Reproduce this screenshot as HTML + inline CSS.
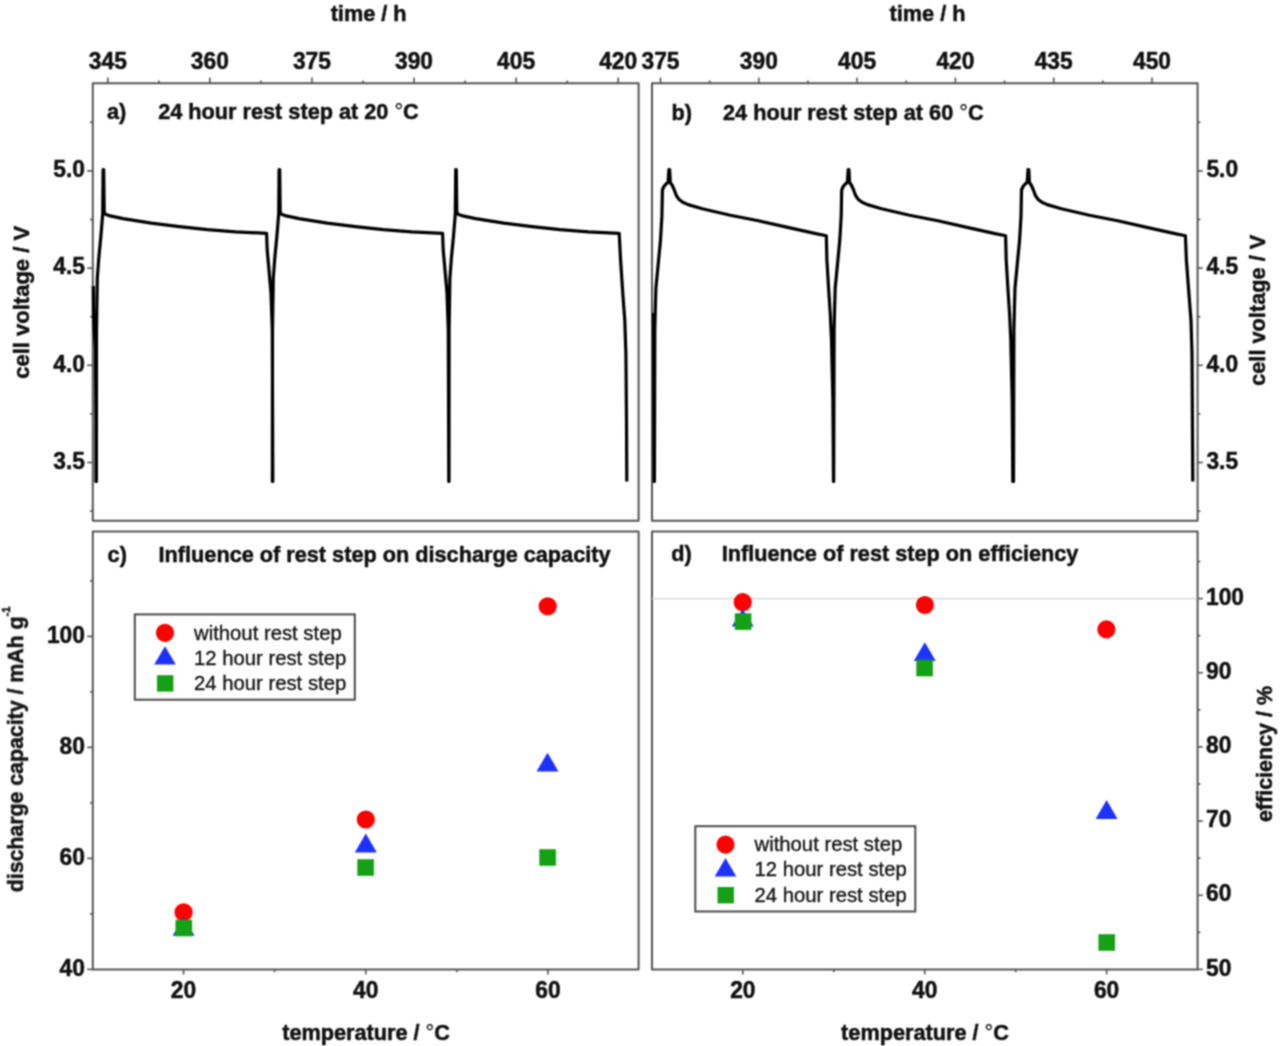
<!DOCTYPE html>
<html><head><meta charset="utf-8"><title>figure</title>
<style>html,body{margin:0;padding:0;background:#fff;}svg{display:block;}text{font-family:"Liberation Sans",sans-serif;}</style>
</head><body>
<div id="w"><svg width="1280" height="1046" viewBox="0 0 1280 1046" font-family="Liberation Sans, sans-serif">
<defs><filter id="soft" x="0" y="0" width="1280" height="1046" filterUnits="userSpaceOnUse" color-interpolation-filters="sRGB"><feConvolveMatrix order="3" kernelMatrix="1 2 1 2 4 2 1 2 1" divisor="16" edgeMode="duplicate"/></filter></defs>
<g filter="url(#soft)">
<rect width="1280" height="1046" fill="#fff"/>
<rect x="92.8" y="83.2" width="545.8" height="437.5" fill="none" stroke="#555555" stroke-width="2.0" stroke-linejoin="round"/>
<rect x="652" y="83.2" width="545.6" height="437.5" fill="none" stroke="#555555" stroke-width="2.0" stroke-linejoin="round"/>
<rect x="92.8" y="531.6" width="545.8" height="437.8" fill="none" stroke="#555555" stroke-width="2.0" stroke-linejoin="round"/>
<rect x="652" y="531.6" width="545.6" height="437.8" fill="none" stroke="#555555" stroke-width="2.0" stroke-linejoin="round"/>
<line x1="652" y1="598.6" x2="1197.6" y2="598.6" stroke="#d4d4d4" stroke-width="1.4"/>
<line x1="107.8" y1="83.2" x2="107.8" y2="77.5" stroke="#555" stroke-width="1.6"/>
<text transform="translate(107.8,69.1) scale(1,1.02)" text-anchor="middle" font-size="22.8" font-weight="bold" fill="#111" stroke="#111" stroke-width="0.5">345</text>
<line x1="209.88" y1="83.2" x2="209.88" y2="77.5" stroke="#555" stroke-width="1.6"/>
<text transform="translate(209.88,69.1) scale(1,1.02)" text-anchor="middle" font-size="22.8" font-weight="bold" fill="#111" stroke="#111" stroke-width="0.5">360</text>
<line x1="311.96" y1="83.2" x2="311.96" y2="77.5" stroke="#555" stroke-width="1.6"/>
<text transform="translate(311.96,69.1) scale(1,1.02)" text-anchor="middle" font-size="22.8" font-weight="bold" fill="#111" stroke="#111" stroke-width="0.5">375</text>
<line x1="414.04" y1="83.2" x2="414.04" y2="77.5" stroke="#555" stroke-width="1.6"/>
<text transform="translate(414.04,69.1) scale(1,1.02)" text-anchor="middle" font-size="22.8" font-weight="bold" fill="#111" stroke="#111" stroke-width="0.5">390</text>
<line x1="516.12" y1="83.2" x2="516.12" y2="77.5" stroke="#555" stroke-width="1.6"/>
<text transform="translate(516.12,69.1) scale(1,1.02)" text-anchor="middle" font-size="22.8" font-weight="bold" fill="#111" stroke="#111" stroke-width="0.5">405</text>
<line x1="618.2" y1="83.2" x2="618.2" y2="77.5" stroke="#555" stroke-width="1.6"/>
<text transform="translate(618.2,69.1) scale(1,1.02)" text-anchor="middle" font-size="22.8" font-weight="bold" fill="#111" stroke="#111" stroke-width="0.5">420</text>
<line x1="158.84" y1="83.2" x2="158.84" y2="80.4" stroke="#555" stroke-width="1.6"/>
<line x1="260.92" y1="83.2" x2="260.92" y2="80.4" stroke="#555" stroke-width="1.6"/>
<line x1="363" y1="83.2" x2="363" y2="80.4" stroke="#555" stroke-width="1.6"/>
<line x1="465.08" y1="83.2" x2="465.08" y2="80.4" stroke="#555" stroke-width="1.6"/>
<line x1="567.16" y1="83.2" x2="567.16" y2="80.4" stroke="#555" stroke-width="1.6"/>
<line x1="660.5" y1="83.2" x2="660.5" y2="77.5" stroke="#555" stroke-width="1.6"/>
<text transform="translate(660.5,69.1) scale(1,1.02)" text-anchor="middle" font-size="22.8" font-weight="bold" fill="#111" stroke="#111" stroke-width="0.5">375</text>
<line x1="758.8" y1="83.2" x2="758.8" y2="77.5" stroke="#555" stroke-width="1.6"/>
<text transform="translate(758.8,69.1) scale(1,1.02)" text-anchor="middle" font-size="22.8" font-weight="bold" fill="#111" stroke="#111" stroke-width="0.5">390</text>
<line x1="857.1" y1="83.2" x2="857.1" y2="77.5" stroke="#555" stroke-width="1.6"/>
<text transform="translate(857.1,69.1) scale(1,1.02)" text-anchor="middle" font-size="22.8" font-weight="bold" fill="#111" stroke="#111" stroke-width="0.5">405</text>
<line x1="955.4" y1="83.2" x2="955.4" y2="77.5" stroke="#555" stroke-width="1.6"/>
<text transform="translate(955.4,69.1) scale(1,1.02)" text-anchor="middle" font-size="22.8" font-weight="bold" fill="#111" stroke="#111" stroke-width="0.5">420</text>
<line x1="1053.7" y1="83.2" x2="1053.7" y2="77.5" stroke="#555" stroke-width="1.6"/>
<text transform="translate(1053.7,69.1) scale(1,1.02)" text-anchor="middle" font-size="22.8" font-weight="bold" fill="#111" stroke="#111" stroke-width="0.5">435</text>
<line x1="1152" y1="83.2" x2="1152" y2="77.5" stroke="#555" stroke-width="1.6"/>
<text transform="translate(1152,69.1) scale(1,1.02)" text-anchor="middle" font-size="22.8" font-weight="bold" fill="#111" stroke="#111" stroke-width="0.5">450</text>
<line x1="709.65" y1="83.2" x2="709.65" y2="80.4" stroke="#555" stroke-width="1.6"/>
<line x1="807.95" y1="83.2" x2="807.95" y2="80.4" stroke="#555" stroke-width="1.6"/>
<line x1="906.25" y1="83.2" x2="906.25" y2="80.4" stroke="#555" stroke-width="1.6"/>
<line x1="1004.55" y1="83.2" x2="1004.55" y2="80.4" stroke="#555" stroke-width="1.6"/>
<line x1="1102.85" y1="83.2" x2="1102.85" y2="80.4" stroke="#555" stroke-width="1.6"/>
<line x1="92.8" y1="170.9" x2="87.2" y2="170.9" stroke="#555" stroke-width="1.6"/>
<line x1="1197.6" y1="170.9" x2="1202.8" y2="170.9" stroke="#555" stroke-width="1.6"/>
<text transform="translate(84.9,177.1) scale(1,1.02)" text-anchor="end" font-size="22.8" font-weight="bold" fill="#111" stroke="#111" stroke-width="0.5">5.0</text>
<text transform="translate(1206.4,177.1) scale(1,1.02)" text-anchor="start" font-size="22.8" font-weight="bold" fill="#111" stroke="#111" stroke-width="0.5">5.0</text>
<line x1="92.8" y1="268.1" x2="87.2" y2="268.1" stroke="#555" stroke-width="1.6"/>
<line x1="1197.6" y1="268.1" x2="1202.8" y2="268.1" stroke="#555" stroke-width="1.6"/>
<text transform="translate(84.9,274.3) scale(1,1.02)" text-anchor="end" font-size="22.8" font-weight="bold" fill="#111" stroke="#111" stroke-width="0.5">4.5</text>
<text transform="translate(1206.4,274.3) scale(1,1.02)" text-anchor="start" font-size="22.8" font-weight="bold" fill="#111" stroke="#111" stroke-width="0.5">4.5</text>
<line x1="92.8" y1="365.3" x2="87.2" y2="365.3" stroke="#555" stroke-width="1.6"/>
<line x1="1197.6" y1="365.3" x2="1202.8" y2="365.3" stroke="#555" stroke-width="1.6"/>
<text transform="translate(84.9,371.5) scale(1,1.02)" text-anchor="end" font-size="22.8" font-weight="bold" fill="#111" stroke="#111" stroke-width="0.5">4.0</text>
<text transform="translate(1206.4,371.5) scale(1,1.02)" text-anchor="start" font-size="22.8" font-weight="bold" fill="#111" stroke="#111" stroke-width="0.5">4.0</text>
<line x1="92.8" y1="462.5" x2="87.2" y2="462.5" stroke="#555" stroke-width="1.6"/>
<line x1="1197.6" y1="462.5" x2="1202.8" y2="462.5" stroke="#555" stroke-width="1.6"/>
<text transform="translate(84.9,468.7) scale(1,1.02)" text-anchor="end" font-size="22.8" font-weight="bold" fill="#111" stroke="#111" stroke-width="0.5">3.5</text>
<text transform="translate(1206.4,468.7) scale(1,1.02)" text-anchor="start" font-size="22.8" font-weight="bold" fill="#111" stroke="#111" stroke-width="0.5">3.5</text>
<line x1="92.8" y1="122.3" x2="90" y2="122.3" stroke="#555" stroke-width="1.6"/>
<line x1="1197.6" y1="122.3" x2="1200.4" y2="122.3" stroke="#555" stroke-width="1.6"/>
<line x1="92.8" y1="219.5" x2="90" y2="219.5" stroke="#555" stroke-width="1.6"/>
<line x1="1197.6" y1="219.5" x2="1200.4" y2="219.5" stroke="#555" stroke-width="1.6"/>
<line x1="92.8" y1="316.7" x2="90" y2="316.7" stroke="#555" stroke-width="1.6"/>
<line x1="1197.6" y1="316.7" x2="1200.4" y2="316.7" stroke="#555" stroke-width="1.6"/>
<line x1="92.8" y1="413.9" x2="90" y2="413.9" stroke="#555" stroke-width="1.6"/>
<line x1="1197.6" y1="413.9" x2="1200.4" y2="413.9" stroke="#555" stroke-width="1.6"/>
<line x1="92.8" y1="511.1" x2="90" y2="511.1" stroke="#555" stroke-width="1.6"/>
<line x1="1197.6" y1="511.1" x2="1200.4" y2="511.1" stroke="#555" stroke-width="1.6"/>
<line x1="183.5" y1="969.4" x2="183.5" y2="974.4" stroke="#555" stroke-width="1.6"/>
<text transform="translate(183.5,998.1) scale(1,1.02)" text-anchor="middle" font-size="22.8" font-weight="bold" fill="#111" stroke="#111" stroke-width="0.5">20</text>
<line x1="365.74" y1="969.4" x2="365.74" y2="974.4" stroke="#555" stroke-width="1.6"/>
<text transform="translate(365.74,998.1) scale(1,1.02)" text-anchor="middle" font-size="22.8" font-weight="bold" fill="#111" stroke="#111" stroke-width="0.5">40</text>
<line x1="547.98" y1="969.4" x2="547.98" y2="974.4" stroke="#555" stroke-width="1.6"/>
<text transform="translate(547.98,998.1) scale(1,1.02)" text-anchor="middle" font-size="22.8" font-weight="bold" fill="#111" stroke="#111" stroke-width="0.5">60</text>
<line x1="274.62" y1="969.4" x2="274.62" y2="972.2" stroke="#555" stroke-width="1.6"/>
<line x1="456.86" y1="969.4" x2="456.86" y2="972.2" stroke="#555" stroke-width="1.6"/>
<line x1="92.8" y1="969.4" x2="87.2" y2="969.4" stroke="#555" stroke-width="1.6"/>
<text transform="translate(84.9,975.6) scale(1,1.02)" text-anchor="end" font-size="22.8" font-weight="bold" fill="#111" stroke="#111" stroke-width="0.5">40</text>
<line x1="92.8" y1="858.4" x2="87.2" y2="858.4" stroke="#555" stroke-width="1.6"/>
<text transform="translate(84.9,864.6) scale(1,1.02)" text-anchor="end" font-size="22.8" font-weight="bold" fill="#111" stroke="#111" stroke-width="0.5">60</text>
<line x1="92.8" y1="747.4" x2="87.2" y2="747.4" stroke="#555" stroke-width="1.6"/>
<text transform="translate(84.9,753.6) scale(1,1.02)" text-anchor="end" font-size="22.8" font-weight="bold" fill="#111" stroke="#111" stroke-width="0.5">80</text>
<line x1="92.8" y1="636.4" x2="87.2" y2="636.4" stroke="#555" stroke-width="1.6"/>
<text transform="translate(84.9,642.6) scale(1,1.02)" text-anchor="end" font-size="22.8" font-weight="bold" fill="#111" stroke="#111" stroke-width="0.5">100</text>
<line x1="92.8" y1="913.9" x2="90" y2="913.9" stroke="#555" stroke-width="1.6"/>
<line x1="92.8" y1="802.9" x2="90" y2="802.9" stroke="#555" stroke-width="1.6"/>
<line x1="92.8" y1="691.9" x2="90" y2="691.9" stroke="#555" stroke-width="1.6"/>
<line x1="92.8" y1="580.9" x2="90" y2="580.9" stroke="#555" stroke-width="1.6"/>
<line x1="742.8" y1="969.4" x2="742.8" y2="974.4" stroke="#555" stroke-width="1.6"/>
<text transform="translate(742.8,998.1) scale(1,1.02)" text-anchor="middle" font-size="22.8" font-weight="bold" fill="#111" stroke="#111" stroke-width="0.5">20</text>
<line x1="924.7" y1="969.4" x2="924.7" y2="974.4" stroke="#555" stroke-width="1.6"/>
<text transform="translate(924.7,998.1) scale(1,1.02)" text-anchor="middle" font-size="22.8" font-weight="bold" fill="#111" stroke="#111" stroke-width="0.5">40</text>
<line x1="1106.6" y1="969.4" x2="1106.6" y2="974.4" stroke="#555" stroke-width="1.6"/>
<text transform="translate(1106.6,998.1) scale(1,1.02)" text-anchor="middle" font-size="22.8" font-weight="bold" fill="#111" stroke="#111" stroke-width="0.5">60</text>
<line x1="833.75" y1="969.4" x2="833.75" y2="972.2" stroke="#555" stroke-width="1.6"/>
<line x1="1015.65" y1="969.4" x2="1015.65" y2="972.2" stroke="#555" stroke-width="1.6"/>
<line x1="1197.6" y1="969.4" x2="1202.8" y2="969.4" stroke="#555" stroke-width="1.6"/>
<text transform="translate(1206,975.6) scale(1,1.02)" text-anchor="start" font-size="22.8" font-weight="bold" fill="#111" stroke="#111" stroke-width="0.5">50</text>
<line x1="1197.6" y1="895.24" x2="1202.8" y2="895.24" stroke="#555" stroke-width="1.6"/>
<text transform="translate(1206,901.44) scale(1,1.02)" text-anchor="start" font-size="22.8" font-weight="bold" fill="#111" stroke="#111" stroke-width="0.5">60</text>
<line x1="1197.6" y1="821.08" x2="1202.8" y2="821.08" stroke="#555" stroke-width="1.6"/>
<text transform="translate(1206,827.28) scale(1,1.02)" text-anchor="start" font-size="22.8" font-weight="bold" fill="#111" stroke="#111" stroke-width="0.5">70</text>
<line x1="1197.6" y1="746.92" x2="1202.8" y2="746.92" stroke="#555" stroke-width="1.6"/>
<text transform="translate(1206,753.12) scale(1,1.02)" text-anchor="start" font-size="22.8" font-weight="bold" fill="#111" stroke="#111" stroke-width="0.5">80</text>
<line x1="1197.6" y1="672.76" x2="1202.8" y2="672.76" stroke="#555" stroke-width="1.6"/>
<text transform="translate(1206,678.96) scale(1,1.02)" text-anchor="start" font-size="22.8" font-weight="bold" fill="#111" stroke="#111" stroke-width="0.5">90</text>
<line x1="1197.6" y1="598.6" x2="1202.8" y2="598.6" stroke="#555" stroke-width="1.6"/>
<text transform="translate(1206,604.8) scale(1,1.02)" text-anchor="start" font-size="22.8" font-weight="bold" fill="#111" stroke="#111" stroke-width="0.5">100</text>
<line x1="1197.6" y1="932.32" x2="1200.4" y2="932.32" stroke="#555" stroke-width="1.6"/>
<line x1="1197.6" y1="858.16" x2="1200.4" y2="858.16" stroke="#555" stroke-width="1.6"/>
<line x1="1197.6" y1="784" x2="1200.4" y2="784" stroke="#555" stroke-width="1.6"/>
<line x1="1197.6" y1="709.84" x2="1200.4" y2="709.84" stroke="#555" stroke-width="1.6"/>
<line x1="1197.6" y1="635.68" x2="1200.4" y2="635.68" stroke="#555" stroke-width="1.6"/>
<line x1="1197.6" y1="561.52" x2="1200.4" y2="561.52" stroke="#555" stroke-width="1.6"/>
<polyline fill="none" stroke="#000" stroke-width="3.2" stroke-linejoin="round" stroke-linecap="butt" points="93.3,286 93.5,315 94.4,333 95.5,348 95.9,420 96,481.5 96.4,481.5 96.5,330 97.3,278 98.8,258 100.9,236 102.7,214 103.1,169.5 103.7,169.5 104.2,212.5 105.9,214.5 109,215.6 123.1,218.6 151.3,223.1 179.4,226.6 207.5,229.7 235.6,231.8 266.6,233.3 267.2,250 269,270 271,293 272.3,330 272.8,481.5 272.4,481.5 272.5,330 273.3,278 274.8,258 276.9,236 278.7,214 279.1,169.5 279.7,169.5 280.2,212.5 281.9,214.5 285,215.6 299.1,218.6 327.3,223.1 355.4,226.6 383.5,229.7 411.6,231.8 442.6,233.3 443.2,250 445,270 447,293 448.3,330 448.8,481.5 449,481.5 449.1,330 449.9,278 451.4,258 453.5,236 455.3,214 455.7,169.5 456.3,169.5 456.8,212.5 458.5,214.5 461.6,215.6 475.7,218.6 503.9,223.1 532,226.6 560.1,229.7 588.2,231.8 619.2,233.3 620.6,260.2 622.8,293.6 624.8,320.4 625.9,353.9 626.5,420 626.8,481.5"/>
<polyline fill="none" stroke="#000" stroke-width="3.2" stroke-linejoin="round" stroke-linecap="butt" points="653.5,313 653.9,400 654.2,481.5 654.4,481.5 654.8,330 655.3,309 655.9,288 658.3,263 660.5,240 661.9,216 662.4,190 663.9,186.5 665.8,184.3 668.1,182.2 668.95,169.5 669.65,169.5 670.3,182.5 672.3,185.5 674.1,189.5 676.3,195.5 678.8,199.2 682.8,202.3 688.1,204.6 702.3,208.8 730.3,215.2 758.5,220.8 786.6,227.1 814.7,233.4 826.3,235.8 826.9,260 828.7,290 830.3,314 831.5,340 832.9,400 833.5,481.5 833.7,481.5 834.1,330 834.6,309 835.2,288 837.6,263 839.8,240 841.2,216 841.7,190 843.2,186.5 845.1,184.3 847.4,182.2 848.25,169.5 848.95,169.5 849.6,182.5 851.6,185.5 853.4,189.5 855.6,195.5 858.1,199.2 862.1,202.3 867.4,204.6 881.6,208.8 909.6,215.2 937.8,220.8 965.9,227.1 994,233.4 1005.6,235.8 1006.2,260 1008,290 1009.6,314 1010.8,340 1012.2,400 1012.8,481.5 1013.5,481.5 1013.9,330 1014.4,309 1015,288 1017.4,263 1019.6,240 1021,216 1021.5,190 1023,186.5 1024.9,184.3 1027.2,182.2 1028.05,169.5 1028.75,169.5 1029.4,182.5 1031.4,185.5 1033.2,189.5 1035.4,195.5 1037.9,199.2 1041.9,202.3 1047.2,204.6 1061.4,208.8 1089.4,215.2 1117.6,220.8 1145.7,227.1 1173.8,233.4 1185.4,235.8 1186.4,260.2 1188.4,286.9 1191,320.4 1192,353.9 1192.4,420 1192.8,481.5"/>
<circle cx="183.6" cy="912.3" r="9.1" fill="#ff0000"/>
<polygon points="183.6,917 172.6,935.8 194.6,935.8" fill="#1e32ff"/>
<rect x="175.5" y="919.7" width="16.6" height="16.6" fill="#16a016"/>
<circle cx="365.8" cy="819.5" r="9.1" fill="#ff0000"/>
<polygon points="365.8,833.6 354.8,852.5 376.8,852.5" fill="#1e32ff"/>
<rect x="357.3" y="859.2" width="16.6" height="16.6" fill="#16a016"/>
<circle cx="547.7" cy="606.3" r="9.1" fill="#ff0000"/>
<polygon points="547.5,752.7 536.5,771.5 558.5,771.5" fill="#1e32ff"/>
<rect x="539.3" y="849.2" width="16.6" height="16.6" fill="#16a016"/>
<circle cx="742.7" cy="602.2" r="9.1" fill="#ff0000"/>
<polygon points="742.7,609.1 731.7,626.5 753.7,626.5" fill="#1e32ff"/>
<rect x="734.8" y="613.3" width="16.6" height="16.6" fill="#16a016"/>
<circle cx="924.9" cy="605" r="9.1" fill="#ff0000"/>
<polygon points="924.8,642.3 913.8,660.9 935.8,660.9" fill="#1e32ff"/>
<rect x="916.3" y="659.7" width="16.6" height="16.6" fill="#16a016"/>
<circle cx="1106.4" cy="629.4" r="9.1" fill="#ff0000"/>
<polygon points="1106.6,800 1095.6,819.1 1117.6,819.1" fill="#1e32ff"/>
<rect x="1098.4" y="934.2" width="16.6" height="16.6" fill="#16a016"/>
<rect x="134.8" y="614.4" width="220" height="85.3" fill="#fff" stroke="#4a4a4a" stroke-width="2"/>
<circle cx="165" cy="632.8" r="9.1" fill="#ff0000"/>
<polygon points="165,646.2 154.2,664.6 175.8,664.6" fill="#1e32ff"/>
<rect x="157" y="675.2" width="16.4" height="16.4" fill="#16a016"/>
<text transform="translate(194,639.5) scale(1,1.03)" text-anchor="start" font-size="20.3" font-weight="normal" fill="#151515" stroke="#151515" stroke-width="0.35">without rest step</text>
<text transform="translate(194,664.6) scale(1,1.03)" text-anchor="start" font-size="20.3" font-weight="normal" fill="#151515" stroke="#151515" stroke-width="0.35">12 hour rest step</text>
<text transform="translate(194,689.7) scale(1,1.03)" text-anchor="start" font-size="20.3" font-weight="normal" fill="#151515" stroke="#151515" stroke-width="0.35">24 hour rest step</text>
<rect x="695.3" y="826.2" width="220" height="85.3" fill="#fff" stroke="#4a4a4a" stroke-width="2"/>
<circle cx="725.5" cy="844.6" r="9.1" fill="#ff0000"/>
<polygon points="725.5,858 714.7,876.4 736.3,876.4" fill="#1e32ff"/>
<rect x="717.5" y="887" width="16.4" height="16.4" fill="#16a016"/>
<text transform="translate(754.5,851.3) scale(1,1.03)" text-anchor="start" font-size="20.3" font-weight="normal" fill="#151515" stroke="#151515" stroke-width="0.35">without rest step</text>
<text transform="translate(754.5,876.4) scale(1,1.03)" text-anchor="start" font-size="20.3" font-weight="normal" fill="#151515" stroke="#151515" stroke-width="0.35">12 hour rest step</text>
<text transform="translate(754.5,901.5) scale(1,1.03)" text-anchor="start" font-size="20.3" font-weight="normal" fill="#151515" stroke="#151515" stroke-width="0.35">24 hour rest step</text>
<text transform="translate(107,118.8) scale(1,1.05)" text-anchor="start" font-size="21.7" font-weight="bold" fill="#111" stroke="#111" stroke-width="0.5">a)</text>
<text transform="translate(158.2,118.8) scale(1,1.05)" text-anchor="start" font-size="21.7" font-weight="bold" fill="#111" stroke="#111" stroke-width="0.5">24 hour rest step at 20 <tspan font-weight="normal" stroke-width="0.2">°</tspan>C</text>
<text transform="translate(671.6,119.5) scale(1,1.05)" text-anchor="start" font-size="21.7" font-weight="bold" fill="#111" stroke="#111" stroke-width="0.5">b)</text>
<text transform="translate(723,119.5) scale(1,1.05)" text-anchor="start" font-size="21.7" font-weight="bold" fill="#111" stroke="#111" stroke-width="0.5">24 hour rest step at 60 <tspan font-weight="normal" stroke-width="0.2">°</tspan>C</text>
<text transform="translate(107.6,561.8) scale(1,1.05)" text-anchor="start" font-size="21.7" font-weight="bold" fill="#111" stroke="#111" stroke-width="0.5">c)</text>
<text transform="translate(158.6,561.8) scale(1,1.05)" text-anchor="start" font-size="21.7" font-weight="bold" fill="#111" stroke="#111" stroke-width="0.5">Influence of rest step on discharge capacity</text>
<text transform="translate(671.2,560.6) scale(1,1.05)" text-anchor="start" font-size="21.7" font-weight="bold" fill="#111" stroke="#111" stroke-width="0.5">d)</text>
<text transform="translate(721.7,560.6) scale(1,1.05)" text-anchor="start" font-size="21.7" font-weight="bold" fill="#111" stroke="#111" stroke-width="0.5">Influence of rest step on efficiency</text>
<text transform="translate(368.6,20.8) scale(1,1.05)" text-anchor="middle" font-size="21.7" font-weight="bold" fill="#111" stroke="#111" stroke-width="0.5">time / h</text>
<text transform="translate(927.5,20.8) scale(1,1.05)" text-anchor="middle" font-size="21.7" font-weight="bold" fill="#111" stroke="#111" stroke-width="0.5">time / h</text>
<text transform="translate(366.1,1039.6) scale(1,1.05)" text-anchor="middle" font-size="21.7" font-weight="bold" fill="#111" stroke="#111" stroke-width="0.5">temperature / <tspan font-weight="normal" stroke-width="0.2">°</tspan>C</text>
<text transform="translate(925,1039.6) scale(1,1.05)" text-anchor="middle" font-size="21.7" font-weight="bold" fill="#111" stroke="#111" stroke-width="0.5">temperature / <tspan font-weight="normal" stroke-width="0.2">°</tspan>C</text>
<text transform="translate(29.1,302.3) rotate(-90) scale(1,1)" text-anchor="middle" font-size="22" font-weight="bold" fill="#111" stroke="#111" stroke-width="0.5">cell voltage / V</text>
<text transform="translate(1264.8,310.3) rotate(-90) scale(1,1)" text-anchor="middle" font-size="21.75" font-weight="bold" fill="#111" stroke="#111" stroke-width="0.5">cell voltage / V</text>
<text transform="translate(1272,754) rotate(-90) scale(1,1)" text-anchor="middle" font-size="21.5" font-weight="bold" fill="#111" stroke="#111" stroke-width="0.5">efficiency / %</text>
<text transform="translate(23,892.2) rotate(-90)" text-anchor="start" font-size="21.3" font-weight="bold" fill="#111" stroke="#111" stroke-width="0.5">discharge capacity / mAh g<tspan font-size="11" dy="-13">-1</tspan></text>
</g>
</svg></div>
</body></html>
